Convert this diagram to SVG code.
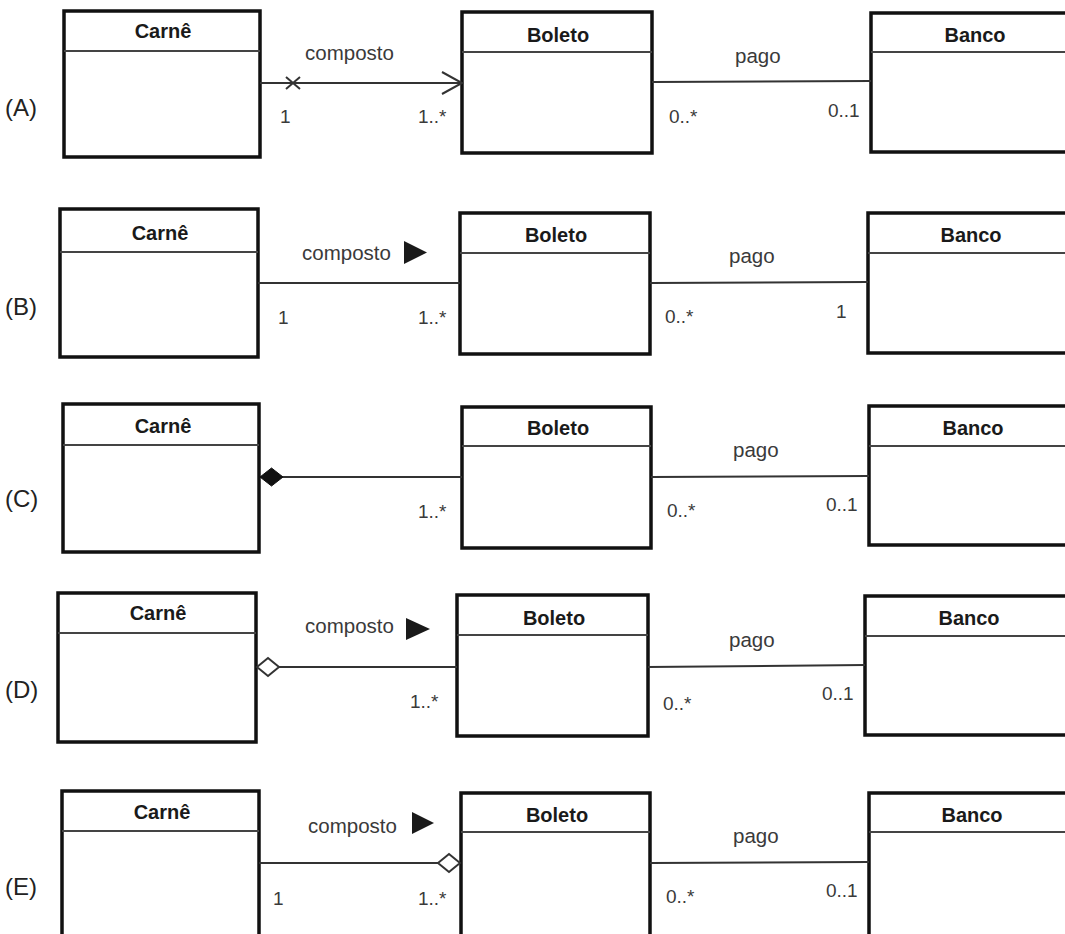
<svg xmlns="http://www.w3.org/2000/svg" width="1065" height="934" viewBox="0 0 1065 934">
<style>
.box{fill:#fff;stroke:#111;stroke-width:3.5}
.hdr{stroke:#444;stroke-width:2;fill:none}
.cls{font-family:"Liberation Sans",Arial,sans-serif;font-weight:bold;font-size:20px;fill:#1a1a1a;text-anchor:middle}
.lbl{font-family:"Liberation Sans",Arial,sans-serif;font-size:20.5px;fill:#3a3a3a}
.mul{font-family:"Liberation Sans",Arial,sans-serif;font-size:19px;fill:#3a3a3a}
.opt{font-family:"Liberation Sans",Arial,sans-serif;font-size:24px;fill:#222}
.con{stroke:#333;stroke-width:2;fill:none}
.dir{fill:#1a1a1a}
</style>
<defs>
<marker id="openArrow" markerUnits="userSpaceOnUse" markerWidth="22" markerHeight="26" viewBox="0 0 22 26" refX="20" refY="12" orient="auto" overflow="visible">
<path d="M0,1 L20,12 L0,23" fill="none" stroke="#333" stroke-width="2"/>
</marker>
<marker id="filledDiamond" markerUnits="userSpaceOnUse" markerWidth="24" markerHeight="20" viewBox="0 0 24 20" refX="0" refY="9" orient="auto" overflow="visible">
<path d="M0,9 L11.5,0 L23,9 L11.5,18 Z" fill="#111" stroke="#111" stroke-width="1"/>
</marker>
<marker id="hollowDiamondStart" markerUnits="userSpaceOnUse" markerWidth="24" markerHeight="20" viewBox="0 0 24 20" refX="0" refY="9" orient="auto" overflow="visible">
<path d="M0,9 L11,0 L22,9 L11,18 Z" fill="#fff" stroke="#333" stroke-width="2"/>
</marker>
<marker id="hollowDiamondEnd" markerUnits="userSpaceOnUse" markerWidth="24" markerHeight="20" viewBox="0 0 24 20" refX="22" refY="9" orient="auto" overflow="visible">
<path d="M0,9 L11,0 L22,9 L11,18 Z" fill="#fff" stroke="#333" stroke-width="2"/>
</marker>
</defs>
<rect width="1065" height="934" fill="#fff"/>

<!-- option labels -->
<g id="option-labels">
<text class="opt" x="5" y="116">(A)</text>
<text class="opt" x="5" y="315">(B)</text>
<text class="opt" x="5" y="507">(C)</text>
<text class="opt" x="5" y="698">(D)</text>
<text class="opt" x="5" y="895">(E)</text>
</g>

<!-- Row A -->
<g id="A-carne"><rect class="box" x="64" y="11" width="196" height="146"/><line class="hdr" x1="64" y1="51" x2="260" y2="51"/><text class="cls" x="163" y="38">Carnê</text></g>
<g id="A-boleto"><rect class="box" x="462" y="12" width="190" height="141"/><line class="hdr" x1="462" y1="52" x2="652" y2="52"/><text class="cls" x="558" y="42">Boleto</text></g>
<g id="A-banco"><rect class="box" x="871" y="13" width="215" height="139"/><line class="hdr" x1="871" y1="52" x2="1086" y2="52"/><text class="cls" x="975" y="42">Banco</text></g>

<!-- Row B -->
<g id="B-carne"><rect class="box" x="60" y="209" width="198" height="148"/><line class="hdr" x1="60" y1="252" x2="258" y2="252"/><text class="cls" x="160" y="240">Carnê</text></g>
<g id="B-boleto"><rect class="box" x="460" y="213" width="190" height="141"/><line class="hdr" x1="460" y1="253" x2="650" y2="253"/><text class="cls" x="556" y="242">Boleto</text></g>
<g id="B-banco"><rect class="box" x="868" y="213" width="215" height="140"/><line class="hdr" x1="868" y1="253" x2="1083" y2="253"/><text class="cls" x="971" y="242">Banco</text></g>

<!-- Row C -->
<g id="C-carne"><rect class="box" x="63" y="404" width="196" height="148"/><line class="hdr" x1="63" y1="445" x2="259" y2="445"/><text class="cls" x="163" y="433">Carnê</text></g>
<g id="C-boleto"><rect class="box" x="462" y="407" width="189" height="141"/><line class="hdr" x1="462" y1="446" x2="651" y2="446"/><text class="cls" x="558" y="435">Boleto</text></g>
<g id="C-banco"><rect class="box" x="869" y="406" width="215" height="139"/><line class="hdr" x1="869" y1="446" x2="1084" y2="446"/><text class="cls" x="973" y="435">Banco</text></g>

<!-- Row D -->
<g id="D-carne"><rect class="box" x="58" y="593" width="198" height="149"/><line class="hdr" x1="58" y1="633" x2="256" y2="633"/><text class="cls" x="158" y="620">Carnê</text></g>
<g id="D-boleto"><rect class="box" x="457" y="595" width="191" height="141"/><line class="hdr" x1="457" y1="635" x2="648" y2="635"/><text class="cls" x="554" y="625">Boleto</text></g>
<g id="D-banco"><rect class="box" x="865" y="596" width="215" height="139"/><line class="hdr" x1="865" y1="636" x2="1080" y2="636"/><text class="cls" x="969" y="625">Banco</text></g>

<!-- Row E -->
<g id="E-carne"><rect class="box" x="62" y="791" width="197" height="170"/><line class="hdr" x1="62" y1="831" x2="259" y2="831"/><text class="cls" x="162" y="819">Carnê</text></g>
<g id="E-boleto"><rect class="box" x="461" y="793" width="189" height="170"/><line class="hdr" x1="461" y1="832" x2="650" y2="832"/><text class="cls" x="557" y="822">Boleto</text></g>
<g id="E-banco"><rect class="box" x="869" y="793" width="215" height="170"/><line class="hdr" x1="869" y1="832" x2="1084" y2="832"/><text class="cls" x="972" y="822">Banco</text></g>

<g id="connectors">
<!-- A -->
<line class="con" x1="260" y1="83" x2="462" y2="83" marker-end="url(#openArrow)"/>
<path class="con" d="M286,77 L300,89 M286,89 L300,77"/>
<text class="lbl" x="305" y="60">composto</text>
<text class="mul" x="280" y="123">1</text>
<text class="mul" x="418" y="123">1..*</text>
<line class="con" x1="652" y1="82" x2="871" y2="81"/>
<text class="lbl" x="735" y="63">pago</text>
<text class="mul" x="669" y="123">0..*</text>
<text class="mul" x="828" y="117">0..1</text>
<!-- B -->
<line class="con" x1="258" y1="283" x2="460" y2="283"/>
<text class="lbl" x="302" y="260">composto</text>
<polygon class="dir" points="404,241 427,252.5 404,264"/>
<text class="mul" x="278" y="324">1</text>
<text class="mul" x="418" y="324">1..*</text>
<line class="con" x1="650" y1="283" x2="868" y2="282"/>
<text class="lbl" x="729" y="263">pago</text>
<text class="mul" x="665" y="323">0..*</text>
<text class="mul" x="836" y="318">1</text>
<!-- C -->
<line class="con" x1="260" y1="477" x2="462" y2="477" marker-start="url(#filledDiamond)"/>
<text class="mul" x="418" y="518">1..*</text>
<line class="con" x1="651" y1="477" x2="869" y2="476"/>
<text class="lbl" x="733" y="457">pago</text>
<text class="mul" x="667" y="517">0..*</text>
<text class="mul" x="826" y="511">0..1</text>
<!-- D -->
<line class="con" x1="257" y1="667" x2="457" y2="667" marker-start="url(#hollowDiamondStart)"/>
<text class="lbl" x="305" y="633">composto</text>
<polygon class="dir" points="406,618 430,629 406,640"/>
<text class="mul" x="410" y="708">1..*</text>
<line class="con" x1="648" y1="667" x2="865" y2="665"/>
<text class="lbl" x="729" y="647">pago</text>
<text class="mul" x="663" y="710">0..*</text>
<text class="mul" x="822" y="700">0..1</text>
<!-- E -->
<line class="con" x1="259" y1="863" x2="460" y2="863" marker-end="url(#hollowDiamondEnd)"/>
<text class="lbl" x="308" y="833">composto</text>
<polygon class="dir" points="412,812 434,823 412,834"/>
<text class="mul" x="273" y="905">1</text>
<text class="mul" x="418" y="905">1..*</text>
<line class="con" x1="650" y1="863" x2="869" y2="862"/>
<text class="lbl" x="733" y="843">pago</text>
<text class="mul" x="666" y="903">0..*</text>
<text class="mul" x="826" y="897">0..1</text>
</g>
</svg>
